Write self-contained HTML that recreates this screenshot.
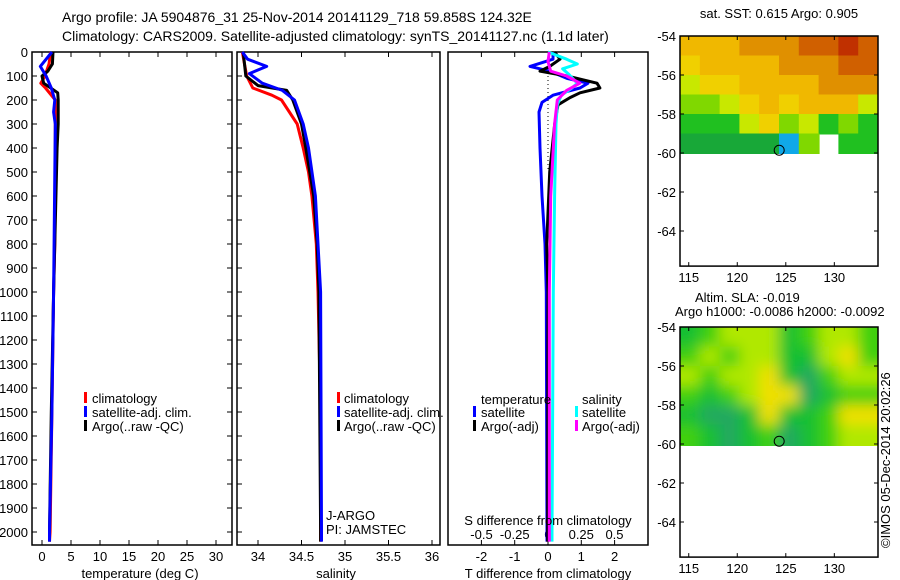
<!DOCTYPE html>
<html><head><meta charset="utf-8"><style>
body{margin:0;background:#fff;}
svg{display:block;font-family:"Liberation Sans",sans-serif;}
text{font-size:13px;fill:#000;}
</style></head><body>
<svg id="fig" width="900" height="580" viewBox="0 0 900 580" xmlns="http://www.w3.org/2000/svg">
<text x="62" y="22" style="font-size:14px">Argo profile: JA 5904876_31 25-Nov-2014 20141129_718 59.858S 124.32E</text>
<text x="62" y="41" style="font-size:14px">Climatology: CARS2009. Satellite-adjusted climatology: synTS_20141127.nc (1.1d later)</text>
<g id="g"></g>
</svg>
<script>
// ---------- data ----------
const depthTicks=[0,100,200,300,400,500,600,700,800,900,1000,1100,1200,1300,1400,1500,1600,1700,1800,1900,2000];
const tTicks=[0,5,10,15,20,25,30];
const sTicks=[34,34.5,35,35.5,36];
const dTTicks=[-2,-1,0,1,2];
const dSTicks=[-0.5,-0.25,0,0.25,0.5];
const dSTickLabels=["-0.5","-0.25","0","0.25","0.5"];

const tClimDepth=[0,50,100,130,150,200,300,500,800,1000,1500,2000,2040];
const tClimVal=[1.5,1.2,0.5,-0.2,0.6,2.3,2.3,2.3,2.2,2.0,1.7,1.4,1.3];
const tArgoDepth=[0,50,80,100,130,150,170,200,300,400,1000,1500,2000,2040];
const tArgoVal=[1.9,1.8,1.0,0.0,0.3,1.5,2.7,2.8,2.8,2.6,2.0,1.6,1.3,1.3];
const tSatDepth=[0,60,100,150,200,250,300,1000,1500,2000,2040];
const tSatVal=[1.7,-0.3,0.7,1.6,2.2,2.0,2.3,2.0,1.7,1.3,1.3];

const sClimDepth=[0,100,150,180,200,300,400,500,600,800,1000,1500,2000,2040];
const sClimVal=[33.82,33.87,33.94,34.16,34.27,34.45,34.52,34.58,34.62,34.67,34.69,34.72,34.72,34.72];
const sArgoDepth=[0,100,140,160,200,300,400,600,800,1000,2000,2040];
const sArgoVal=[33.83,33.86,34.0,34.33,34.4,34.5,34.55,34.64,34.68,34.7,34.72,34.72];
const sSatDepth=[0,30,60,90,130,160,200,300,400,600,1000,2000,2040];
const sSatVal=[33.82,33.88,34.1,33.9,34.05,34.28,34.42,34.52,34.58,34.66,34.72,34.73,34.73];

const dTSatDepth=[0,30,60,80,110,130,150,180,210,250,400,600,800,1000,2000,2040];
const dTSatVal=[0.15,0.15,-0.54,0.06,0.57,1.2,0.96,0.15,-0.18,-0.27,-0.24,-0.18,-0.09,-0.05,-0.03,-0.03];
const dTArgoDepth=[0,30,60,80,100,130,150,170,190,220,300,500,800,1000,2000,2040];
const dTArgoVal=[0.2,0.36,0.05,-0.24,0.57,1.47,1.56,0.96,0.66,0.3,0.2,0.05,-0.04,0.0,-0.01,-0.01];
const dSSatDepth=[0,30,50,70,90,130,150,180,220,300,600,1000,2000,2040];
const dSSatVal=[0,0.14,0.22,0.11,0.15,0.22,0.18,0.1,0.07,0.06,0.05,0.04,0.03,0.03];
const dSArgoDepth=[0,40,80,100,130,160,200,300,600,1000,2000,2040];
const dSArgoVal=[0.01,0,0.02,0.14,0.24,0.14,0.07,0.05,0.02,0.01,0.01,0.01];

const lonTicks=[115,120,125,130];
const latTicks=[-54,-56,-58,-60,-62,-64];
const sstGrid=[
[6,6,6,7,7,7,8,8,9,8],
[5,6,6,6,6,7,7,7,8,8],
[4,5,5,6,6,6,6,7,7,7],
[3,3,4,5,6,5,6,6,6,4],
[2,2,2,4,5,3,4,2,3,2],
[1,1,1,1,1,0,3,-1,2,2]];
const slaGrid=[
[2,3,4,4,4,2,3,4,4,3],
[3,4,3,4,4,2,2,4,5,3],
[4,3,4,4,5,2,1,3,4,4],
[3,2,3,4,5,5,1,2,3,3],
[2,1,1,2,5,2,2,3,5,5],
[3,2,1,2,3,1,2,3,4,4]];
const floatLon=124.32, floatLat=-59.858;
const palette=["#10a8e8","#18a838","#20c020","#80d800","#c8e800","#f0d000","#f0b800","#e09000","#d06000","#c03000"];
const slaPalette=["#10a8e8","#20a860","#18c030","#40d010","#b0e800","#f0e000"];

// ---------- helpers ----------
const NS="http://www.w3.org/2000/svg";
const G=document.getElementById('g');
function el(tag,attrs,parent){const e=document.createElementNS(NS,tag);for(const k in attrs)e.setAttribute(k,attrs[k]);(parent||G).appendChild(e);return e;}
const Y0=52,PB=545;
const yD=d=>Y0+d*0.24;
const xT=v=>42+v*5.8;
const xS=v=>258+(v-34)*87;
const xDT=v=>548+v*33.3;
const xDS=v=>548+v*133;

function frame(x0,x1,name){const r=el('rect',{x:x0,y:Y0,width:x1-x0,height:PB-Y0,fill:'none',stroke:'#000','stroke-width':1.5});
}
function series(depths,vals,xf,color,name,w){
  const pts=depths.map((d,i)=>xf(vals[i]).toFixed(1)+','+yD(d).toFixed(1)).join(' ');
  const p=el('polyline',{points:pts,fill:'none',stroke:color,'stroke-width':w||3,'stroke-linejoin':'round'});
  
  
}
function xticks(vals,labels,xf,ty,name){
  vals.forEach((v,i)=>{const x=xf(v);
    el('line',{x1:x,x2:x,y1:Y0,y2:Y0+5,stroke:'#000'});
    el('line',{x1:x,x2:x,y1:PB,y2:PB-5,stroke:'#000'});
    if(ty){const t=el('text',{x:x,y:ty,'text-anchor':'middle'});t.textContent=labels[i];
    
    }
  });
}
function txt(x,y,s,name,anchor){const t=el('text',{x:x,y:y,'text-anchor':anchor||'start'});t.textContent=s;
  
  return t;}
function marker(x,y,color){el('rect',{x:x,y:y-11,width:3,height:11,fill:color});}

// ---------- panel 1: temperature ----------
frame(32,232,'temperature-panel');
depthTicks.forEach(d=>{const y=yD(d);el('line',{x1:32,x2:37,y1:y,y2:y,stroke:'#000'});el('line',{x1:232,x2:227,y1:y,y2:y,stroke:'#000'});
  txt(28,y+5,String(d),'depth-tick-label','end');});
xticks(tTicks,tTicks.map(String),xT,561,'temperature-tick-label');
txt(140,578,'temperature (deg C)','temperature-axis-title','middle');
series(tClimDepth,tClimVal,xT,'#ff0000','temp-climatology-line');
series(tArgoDepth,tArgoVal,xT,'#000000','temp-argo-line');
series(tSatDepth,tSatVal,xT,'#0000ff','temp-satellite-line');
marker(84,403,'#ff0000');txt(92,403,'climatology','legend-climatology');
marker(84,417,'#0000ff');txt(92,417,'satellite-adj. clim.','legend-satellite-adj');
marker(84,431,'#000');txt(92,431,'Argo(..raw -QC)','legend-argo');

// ---------- panel 2: salinity ----------
frame(237,440,'salinity-panel');
depthTicks.forEach(d=>{const y=yD(d);el('line',{x1:237,x2:242,y1:y,y2:y,stroke:'#000'});});
xticks(sTicks,["34","34.5","35","35.5","36"],xS,561,'salinity-tick-label');
txt(336,578,'salinity','salinity-axis-title','middle');
series(sClimDepth,sClimVal,xS,'#ff0000','sal-climatology-line');
series(sArgoDepth,sArgoVal,xS,'#000000','sal-argo-line');
series(sSatDepth,sSatVal,xS,'#0000ff','sal-satellite-line');
marker(337,403,'#ff0000');txt(344,403,'climatology','legend-climatology');
marker(337,417,'#0000ff');txt(344,417,'satellite-adj. clim.','legend-satellite-adj');
marker(337,431,'#000');txt(344,431,'Argo(..raw -QC)','legend-argo');
txt(326,520,'J-ARGO','agency-label');
txt(326,534,'PI: JAMSTEC','pi-label');

// ---------- panel 3: differences ----------
frame(448,648,'difference-panel');
el('line',{x1:548,x2:548,y1:Y0,y2:yD(500),stroke:'#000','stroke-dasharray':'1,3'});
xticks(dTTicks,dTTicks.map(String),xDT,561,'t-diff-tick-label');
dSTicks.forEach((v,i)=>txt(xDS(v),539,dSTickLabels[i],'s-diff-tick-label','middle'));
series([1400,2040],[0,0],xDT,'#ff0000','zero-climatology-line');
series(dTSatDepth,dTSatVal,xDT,'#0000ff','t-diff-satellite-line');
series(dTArgoDepth,dTArgoVal,xDT,'#000000','t-diff-argo-line');
series(dSSatDepth,dSSatVal,xDS,'#00ffff','s-diff-satellite-line');
series(dSArgoDepth,dSArgoVal,xDS,'#ff00ff','s-diff-argo-line');
txt(548,525,'S difference from climatology','s-diff-axis-title','middle');
txt(548,578,'T difference from climatology','t-diff-axis-title','middle');
txt(481,404,'temperature','legend-temperature-heading');
marker(473,417,'#0000ff');txt(481,417,'satellite','legend-t-satellite');
marker(473,431,'#000');txt(481,431,'Argo(-adj)','legend-t-argo');
txt(582,404,'salinity','legend-salinity-heading');
marker(575,417,'#00ffff');txt(582,417,'satellite','legend-s-satellite');
marker(575,431,'#ff00ff');txt(582,431,'Argo(-adj)','legend-s-argo');

// ---------- maps ----------
const MX0=680,MX1=878,LON0=114.1,LON1=134.5;
const xL=lon=>MX0+(lon-LON0)*(MX1-MX0)/(LON1-LON0);
function map(top,grid,pal,name,blur){
  const yL=lat=>top+(-54-lat)*19.5;
  const bot=yL(-65.8);
  const cg=el('g',{});
  
  
  const cid='clip'+Math.round(top);
  const cp=el('clipPath',{id:cid},cg);el('rect',{x:MX0,y:top,width:MX1-MX0,height:yL(-60.1)-top},cp);
  const inner=el('g',{'clip-path':'url(#'+cid+')'},cg);
  let tg=inner;
  if(blur){const f=el('filter',{id:'bl'+cid,x:'-10%',y:'-10%',width:'120%',height:'120%'},cg);el('feGaussianBlur',{stdDeviation:7},f);tg=el('g',{filter:'url(#bl'+cid+')'},inner);
    el('rect',{x:MX0-20,y:top-20,width:MX1-MX0+40,height:160,fill:pal[3]},tg);}
  const cw=(LON1-LON0)/grid[0].length;
  grid.forEach((row,r)=>row.forEach((v,c)=>{
    if(v<0)return;
    const x=xL(LON0+c*cw),y=yL(-54-r);
    const ext=blur?((c==row.length-1)?20:0):0;
    const ey=blur?((r==0)?-20:0):0;
    const cell=el('rect',{x:x-(blur&&c==0?20:0),y:y+ey,width:xL(LON0+(c+1)*cw)-x+1+ext+(blur&&c==0?20:0),height:yL(-55-r)-y+1-ey+(blur&&r==grid.length-1?20:0),fill:pal[v]},tg);
    
    
  }));
  el('rect',{x:MX0,y:top,width:MX1-MX0,height:bot-top,fill:'none',stroke:'#000','stroke-width':1.5},cg);
  latTicks.forEach(l=>{const y=yL(l);el('line',{x1:MX0,x2:MX0+4,y1:y,y2:y,stroke:'#000'},cg);el('line',{x1:MX1,x2:MX1-4,y1:y,y2:y,stroke:'#000'},cg);
    txt(MX0-4,y+5,String(l),'latitude-tick-label','end');});
  lonTicks.forEach(l=>{const x=xL(l);el('line',{x1:x,x2:x,y1:top,y2:top+4,stroke:'#000'},cg);el('line',{x1:x,x2:x,y1:bot,y2:bot-4,stroke:'#000'},cg);
    txt(x,bot+16,String(l),'longitude-tick-label','middle');});
  const c=el('circle',{cx:xL(floatLon),cy:yL(floatLat),r:5,fill:'none',stroke:'#000'},cg);
  
  
}
map(36,sstGrid,palette,'sst-map',false);
map(327,slaGrid,slaPalette,'sla-map',true);
txt(779,18,'sat. SST: 0.615  Argo: 0.905','sst-map-title','middle');
txt(695,302,'Altim. SLA: -0.019','sla-title');
txt(675,316,'Argo h1000: -0.0086 h2000: -0.0092','argo-height-title');
const st=txt(0,0,'©IMOS 05-Dec-2014 20:02:26','imos-stamp');
st.setAttribute('transform','translate(890,548) rotate(-90)');
</script>
</body></html>
